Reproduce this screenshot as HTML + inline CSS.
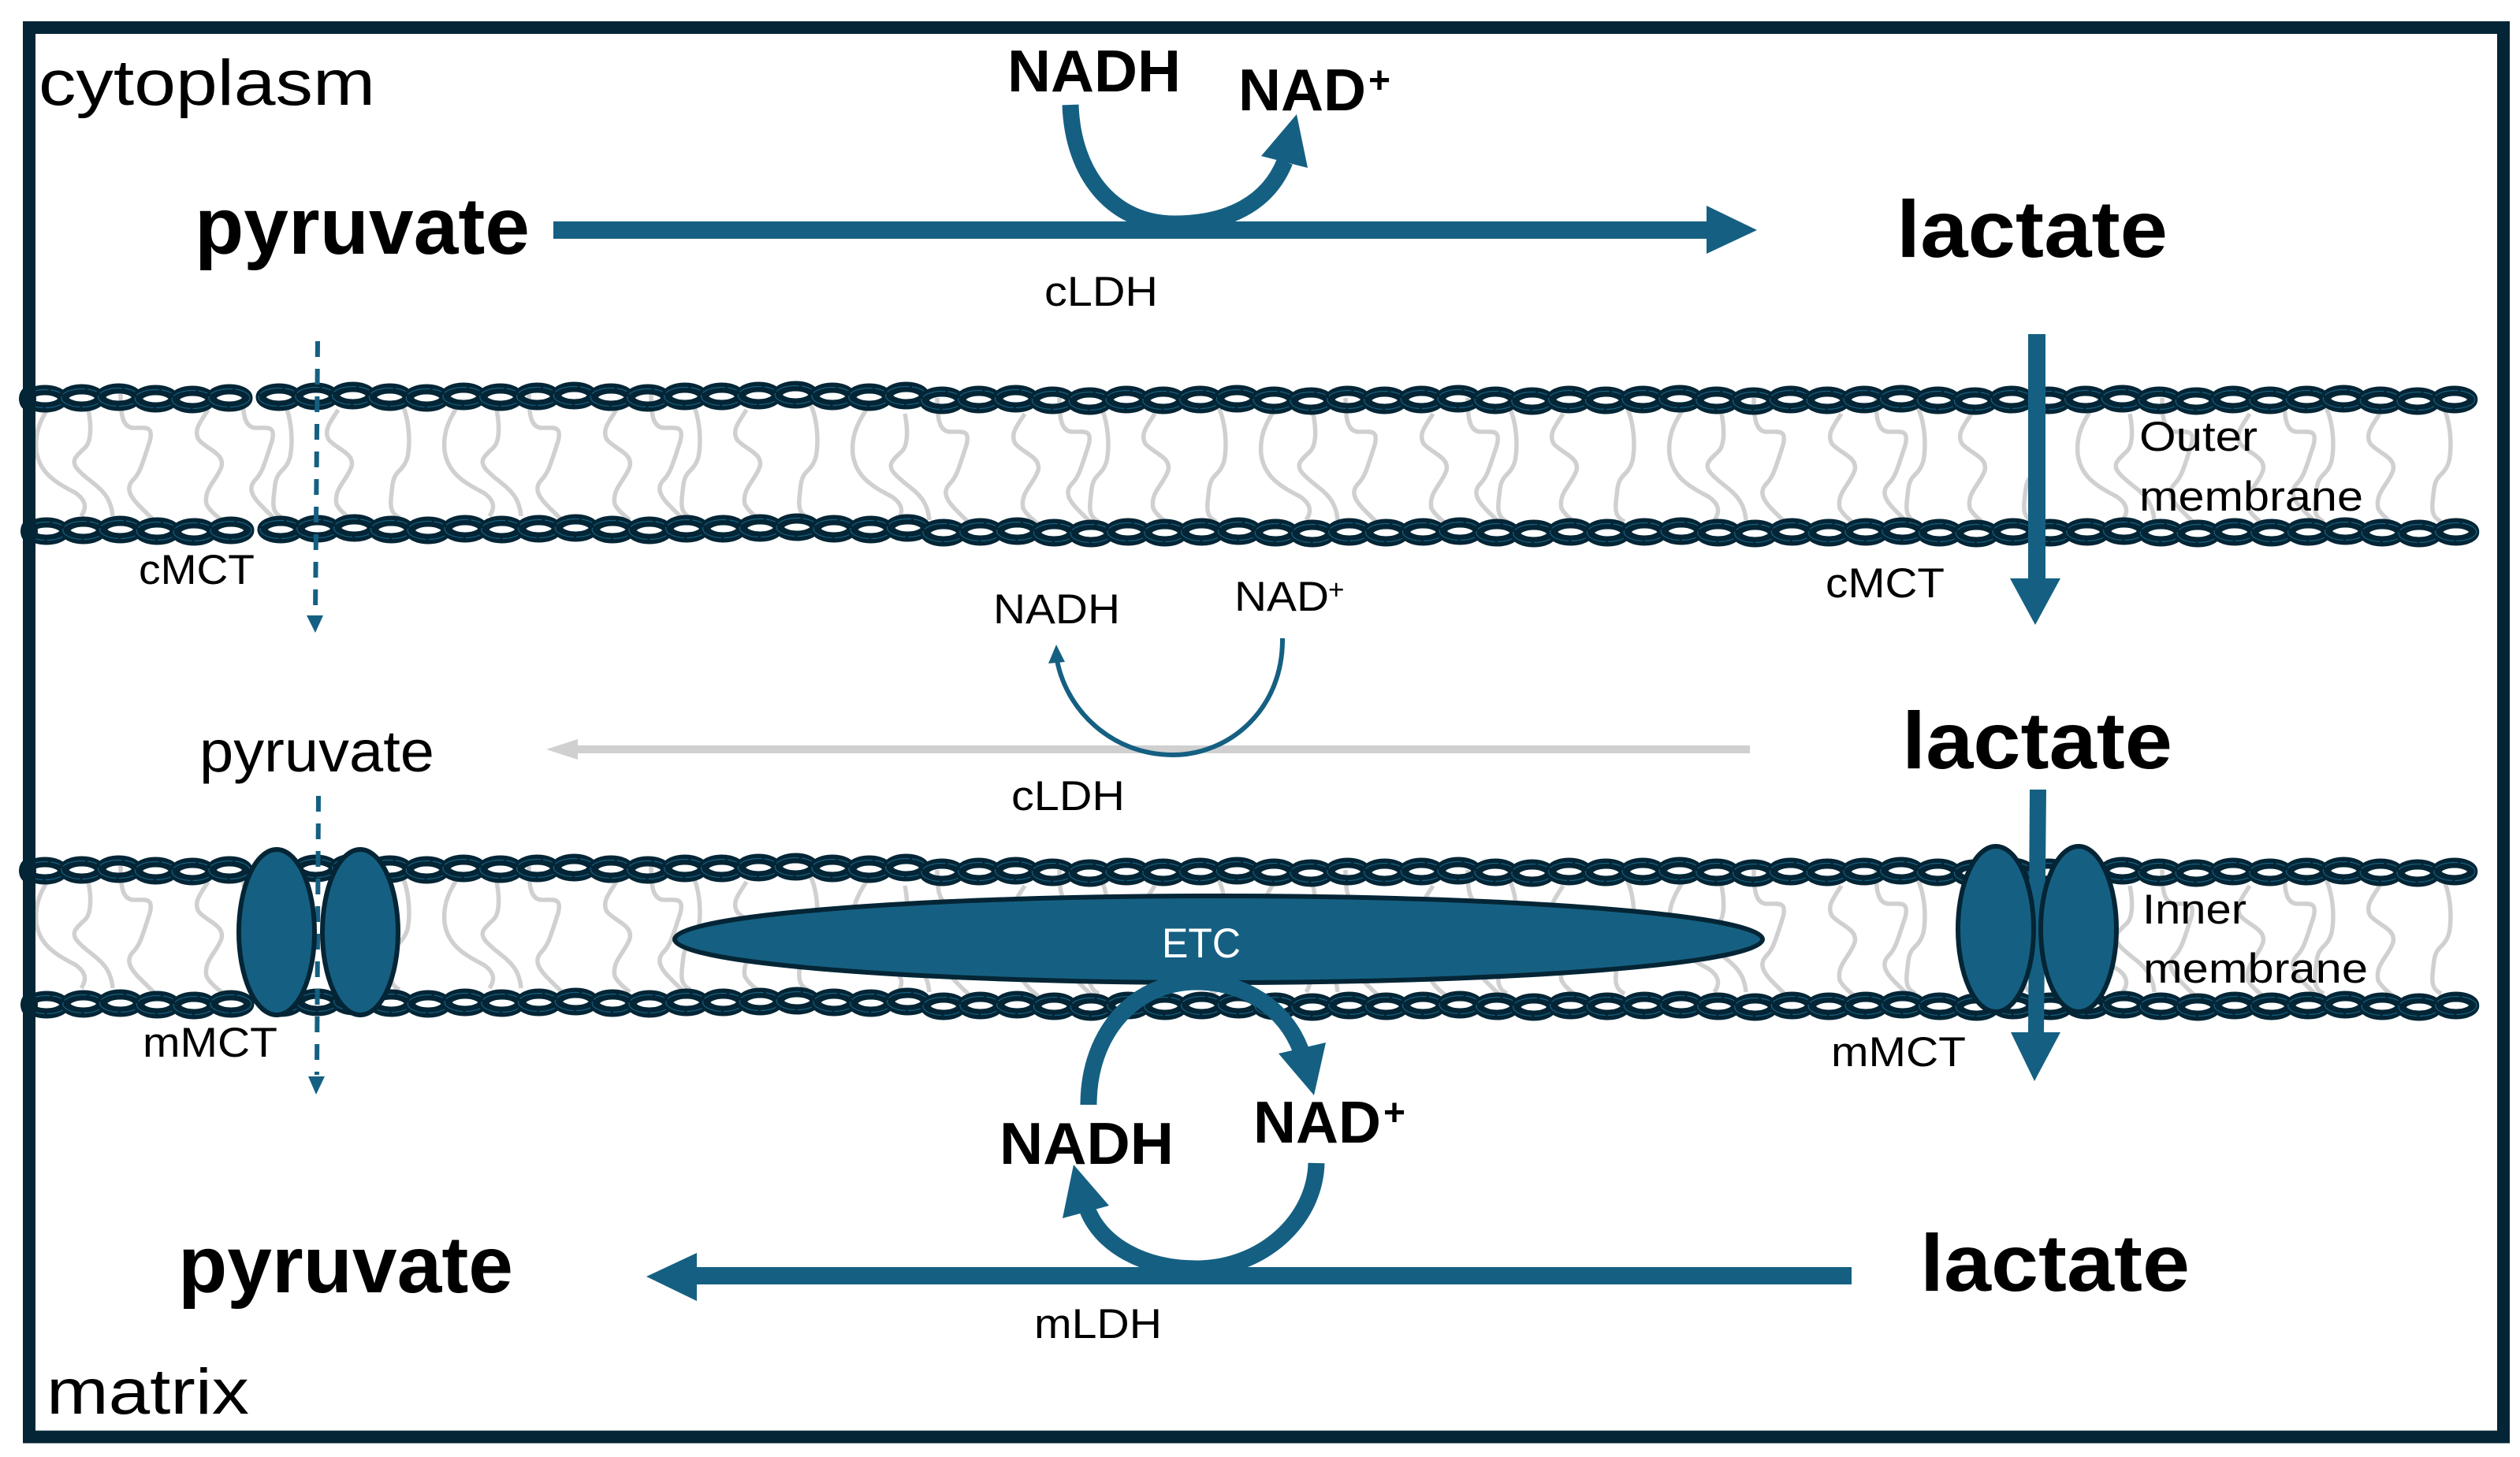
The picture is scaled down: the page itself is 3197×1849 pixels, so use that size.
<!DOCTYPE html>
<html><head><meta charset="utf-8"><style>
html,body{margin:0;padding:0;background:#fff}
svg{display:block}
text{font-family:"Liberation Sans",sans-serif;fill:#000}
.b{font-weight:bold}
</style></head><body>
<svg width="3197" height="1849" viewBox="0 0 3197 1849" xmlns="http://www.w3.org/2000/svg">
<defs>
<g id="lk"><ellipse rx="23" ry="11" fill="none" stroke="#042535" stroke-width="13"/><ellipse rx="26" ry="11.5" fill="none" stroke="#156082" stroke-width="1.2" stroke-dasharray="30 3"/></g>
<g id="l6"><use href="#lk" x="0" y="0"/><use href="#lk" x="46.8" y="-1"/><use href="#lk" x="93.6" y="-2"/><use href="#lk" x="140.4" y="0"/><use href="#lk" x="187.2" y="1"/><use href="#lk" x="234" y="-1"/></g>
<g id="row">
<use href="#l6" x="57" y="2"/>
<use href="#l6" x="354" y="0"/><use href="#l6" x="634.8" y="0"/><use href="#l6" x="915.6" y="-1"/>
<g transform="translate(1195 4)"><use href="#l6" x="0"/><use href="#l6" x="280.8"/><use href="#l6" x="561.6"/><use href="#l6" x="842.4"/><use href="#l6" x="1123.2"/><use href="#l6" x="1404"/><use href="#l6" x="1684.8"/></g>
<ellipse cx="35" cy="2" rx="11" ry="15" fill="#042535"/>
</g>
<path id="A" d="M63 515C50 535 44 550 46 572C50 600 70 612 95 625C110 635 110 645 103 655"/>
<path id="B" d="M112 520C116 540 116 560 108 568C95 580 90 585 98 595C115 615 140 620 143 655"/>
<path id="C" d="M153 500C153 525 155 543 170 543C185 543 195 540 190 560C180 590 178 600 168 610C155 625 175 640 195 660"/>
<path id="D" d="M264 520C255 535 245 545 252 558C262 570 285 575 281 592C275 610 258 620 262 640C266 648 275 655 281 660"/>
<path id="F" d="M360 510C370 530 372 560 368 580C362 600 352 595 349 615C346 640 344 650 358 657"/>
<g id="p"><use href="#A"/><use href="#B"/><use href="#C"/><use href="#D"/><use href="#C" x="155"/><use href="#F"/><use href="#D" x="165"/><use href="#F" x="149"/></g>
<g id="lip" fill="none" stroke="#d0d0d0" stroke-width="5.5"><use href="#p" x="0"/><use href="#p" x="518"/><use href="#p" x="1036" y="5"/><use href="#p" x="1554" y="5"/><use href="#p" x="2072" y="5"/><use href="#p" x="2590" y="5"/></g>
</defs>
<rect width="3197" height="1849" fill="#fff"/>

<!-- lipids + chains -->
<use href="#lip"/>
<use href="#lip" y="599"/>
<use href="#row" y="504"/>
<use href="#row" x="2" y="672"/>
<use href="#row" y="1103"/>
<use href="#row" x="2" y="1273"/>

<!-- frame -->
<rect x="37" y="35" width="3139" height="1788.5" fill="none" stroke="#042535" stroke-width="16"/>

<!-- top reaction -->
<rect x="702" y="281" width="1465" height="22" fill="#156082"/>
<polygon points="2165,261 2229,292 2165,322" fill="#156082"/>
<path d="M1358 133C1361 222 1412 284 1490 284C1555 284 1608 260 1630 205" fill="none" stroke="#156082" stroke-width="21"/>
<polygon points="1645,145 1600,198 1659,213" fill="#156082"/>

<!-- right arrows -->
<rect x="2573" y="424" width="22" height="312" fill="#156082"/>
<polygon points="2550,734 2614,734 2582,793" fill="#156082"/>
<polygon points="2575,1002 2596,1002 2593,1312 2573,1312" fill="#156082"/>
<polygon points="2551,1310 2614,1310 2581,1372" fill="#156082"/>

<!-- left dashed -->
<line x1="403" y1="433" x2="400" y2="783" stroke="#156082" stroke-width="6" stroke-dasharray="20 15"/>
<polygon points="389,781 410,781 400,803" fill="#156082"/>
<line x1="404" y1="1010" x2="402" y2="1364" stroke="#156082" stroke-width="6" stroke-dasharray="20 15"/>
<polygon points="391,1366 412,1366 401,1389" fill="#156082"/>

<!-- middle reaction -->
<rect x="728" y="946" width="1492" height="10" fill="#d0d0d0"/>
<polygon points="733,938 693,951 733,964" fill="#d0d0d0"/>
<path d="M1627 810C1628 900 1560 958 1488 958C1410 958 1350 900 1340 832" fill="none" stroke="#156082" stroke-width="6"/>
<polygon points="1340,818 1330,842 1351,840" fill="#156082"/>

<!-- transporters -->
<g fill="#156082" stroke="#042535" stroke-width="6">
<ellipse cx="351" cy="1183" rx="48" ry="105"/>
<ellipse cx="457" cy="1183" rx="48" ry="105"/>
<ellipse cx="2532" cy="1179" rx="48" ry="105"/>
<ellipse cx="2637" cy="1179" rx="48" ry="105"/>
<ellipse cx="1546" cy="1192" rx="690" ry="55"/>
</g>

<!-- bottom reaction -->
<rect x="880" y="1608" width="1469" height="22" fill="#156082"/>
<polygon points="884,1590 820,1620 884,1651" fill="#156082"/>
<path d="M1381 1402C1381 1310 1440 1246 1518 1246C1580 1246 1630 1280 1650 1332" fill="none" stroke="#156082" stroke-width="21"/>
<polygon points="1667,1390 1622,1337 1682,1323" fill="#156082"/>
<path d="M1670 1476C1668 1550 1600 1610 1518 1610C1450 1610 1398 1580 1380 1536" fill="none" stroke="#156082" stroke-width="21"/>
<polygon points="1362,1478 1348,1546 1407,1530" fill="#156082"/>

<!-- text -->
<text x="49" y="133" font-size="82" textLength="427" lengthAdjust="spacingAndGlyphs">cytoplasm</text>
<text x="247" y="322" font-size="102" class="b" textLength="425" lengthAdjust="spacingAndGlyphs">pyruvate</text>
<text x="2406" y="326" font-size="102" class="b" textLength="344" lengthAdjust="spacingAndGlyphs">lactate</text>
<text x="1278" y="116" font-size="75" class="b" textLength="220" lengthAdjust="spacingAndGlyphs">NADH</text>
<text x="1571" y="140" font-size="75" class="b" textLength="162" lengthAdjust="spacingAndGlyphs">NAD</text>
<text x="1736" y="118" font-size="48" class="b">+</text>
<text x="1325" y="388" font-size="53" textLength="144" lengthAdjust="spacingAndGlyphs">cLDH</text>
<text x="176" y="741" font-size="53" textLength="147" lengthAdjust="spacingAndGlyphs">cMCT</text>
<text x="2316" y="758" font-size="53" textLength="151" lengthAdjust="spacingAndGlyphs">cMCT</text>
<text x="2714" y="572" font-size="53" textLength="150" lengthAdjust="spacingAndGlyphs">Outer</text>
<text x="2714" y="648" font-size="53" textLength="284" lengthAdjust="spacingAndGlyphs">membrane</text>
<text x="1260" y="791" font-size="53" textLength="161" lengthAdjust="spacingAndGlyphs">NADH</text>
<text x="1566" y="775" font-size="53" textLength="120" lengthAdjust="spacingAndGlyphs">NAD</text>
<text x="1685" y="760" font-size="35">+</text>
<text x="1283" y="1028" font-size="53" textLength="144" lengthAdjust="spacingAndGlyphs">cLDH</text>
<text x="253" y="979" font-size="74" textLength="298" lengthAdjust="spacingAndGlyphs">pyruvate</text>
<text x="2413" y="975" font-size="102" class="b" textLength="343" lengthAdjust="spacingAndGlyphs">lactate</text>
<text x="2718" y="1172" font-size="53" textLength="132" lengthAdjust="spacingAndGlyphs">Inner</text>
<text x="2719" y="1247" font-size="53" textLength="285" lengthAdjust="spacingAndGlyphs">membrane</text>
<text x="2323" y="1353" font-size="53" textLength="171" lengthAdjust="spacingAndGlyphs">mMCT</text>
<text x="181" y="1341" font-size="53" textLength="171" lengthAdjust="spacingAndGlyphs">mMCT</text>
<text x="1474" y="1215" font-size="53" textLength="100" lengthAdjust="spacingAndGlyphs" style="fill:#fff">ETC</text>
<text x="1268" y="1477" font-size="75" class="b" textLength="221" lengthAdjust="spacingAndGlyphs">NADH</text>
<text x="1590" y="1450" font-size="75" class="b" textLength="162" lengthAdjust="spacingAndGlyphs">NAD</text>
<text x="1755" y="1428" font-size="48" class="b">+</text>
<text x="1312" y="1698" font-size="53" textLength="162" lengthAdjust="spacingAndGlyphs">mLDH</text>
<text x="226" y="1640" font-size="102" class="b" textLength="425" lengthAdjust="spacingAndGlyphs">pyruvate</text>
<text x="2436" y="1638" font-size="102" class="b" textLength="342" lengthAdjust="spacingAndGlyphs">lactate</text>
<text x="59" y="1794" font-size="82" textLength="257" lengthAdjust="spacingAndGlyphs">matrix</text>
</svg>
</body></html>
